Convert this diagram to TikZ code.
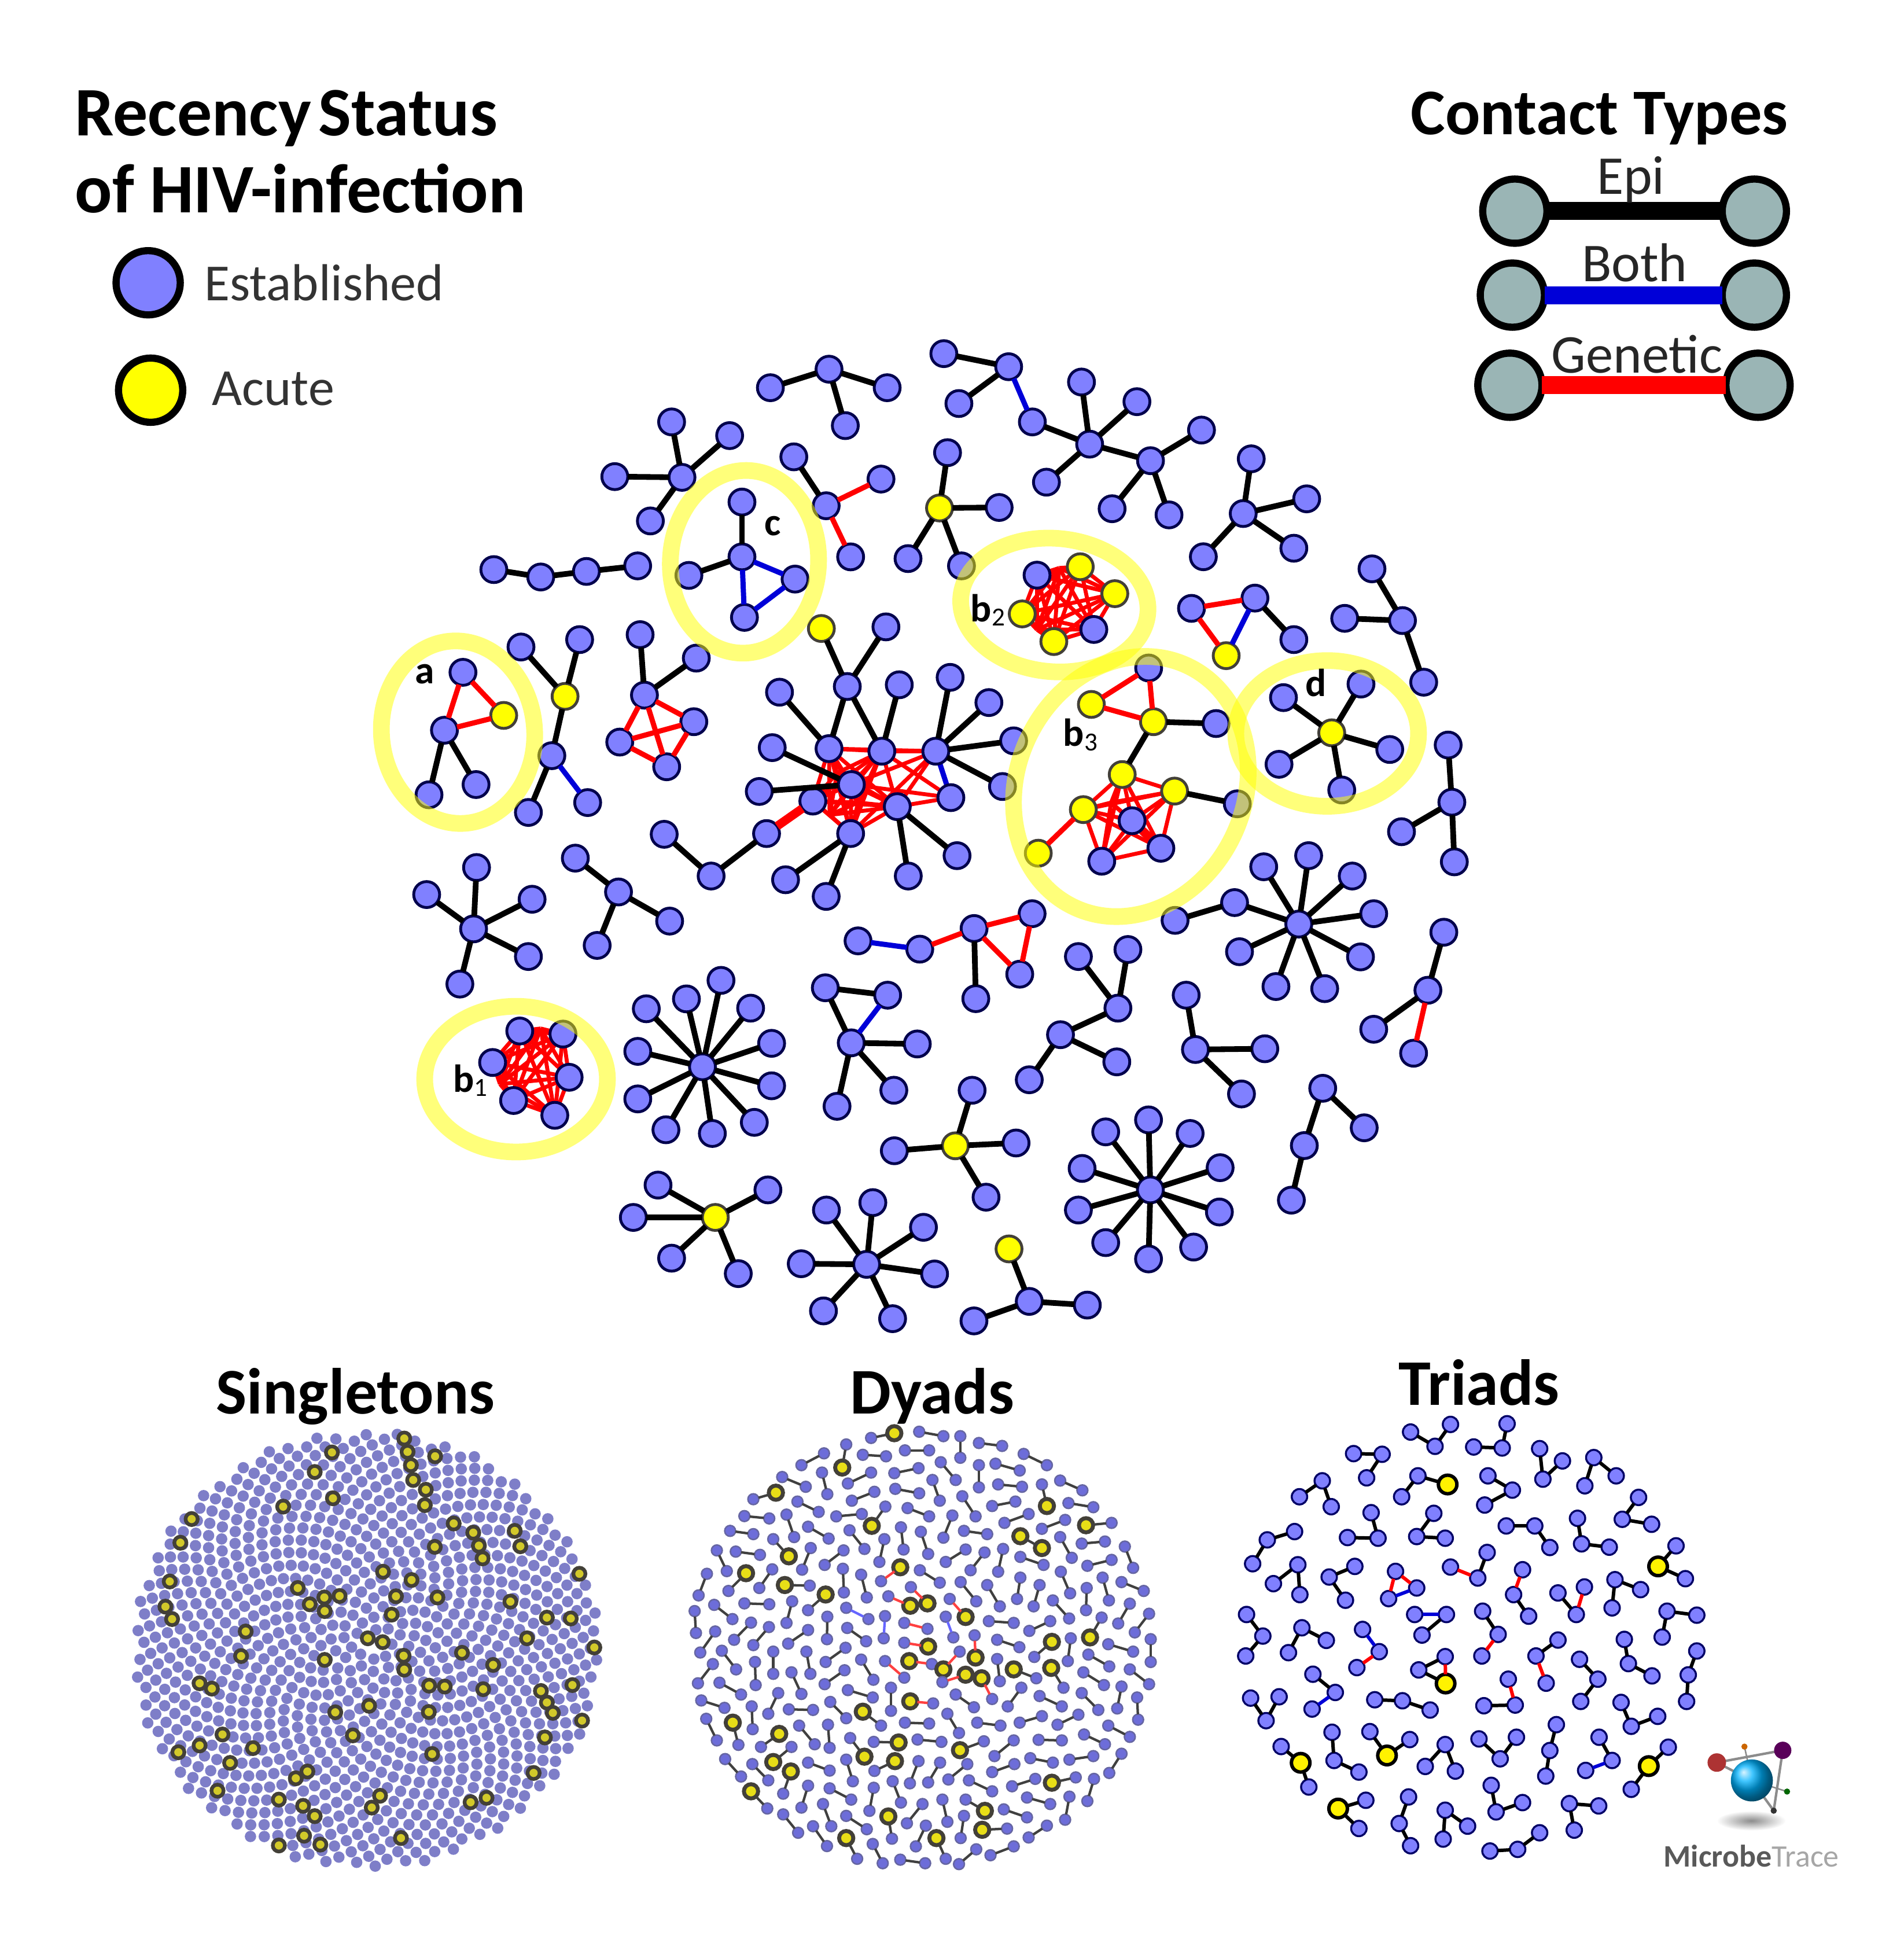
\documentclass[tikz,border=0pt]{standalone}
\usepackage{fontspec}
\setmainfont{Carlito}
\usetikzlibrary{backgrounds}
\definecolor{estblue}{HTML}{8080FF}
\definecolor{acuyellow}{HTML}{FFFF00}
\definecolor{legrey}{HTML}{9AB5B5}
\definecolor{hilite}{HTML}{FFFF00}
\definecolor{bothblue}{HTML}{0000D8}
\tikzset{
  estnode/.style={circle,draw=black!70!blue,fill=estblue,line width=.023cm,minimum size=.21cm,inner sep=0pt,outer sep=0pt},
  acunode/.style={estnode,draw=black!85!yellow,fill=acuyellow},
  epiedge/.style={black,line width=.046cm},
  genedge/.style={red,line width=.042cm},
  meshedge/.style={red,line width=.032cm},
  bothedge/.style={bothblue,line width=.042cm},
  hiring/.style={draw=hilite,opacity=.52,line width=.135cm},
  lglarge/.style={circle,draw=black,fill=estblue,line width=.058cm,minimum size=.52cm,inner sep=0pt,outer sep=0pt},
  lgnode/.style={lglarge,fill=legrey},
  lgedge/.style={line width=.145cm},
  bigtitle/.style={font=\fontsize{15}{18}\selectfont\bfseries,inner sep=0pt},
  lefttitle/.style={font=\fontsize{16}{18}\selectfont\bfseries,inner sep=0pt},
  lgtext/.style={font=\fontsize{12}{14}\selectfont,text=black!80,inner sep=0pt},
  lgword/.style={font=\fontsize{12.6}{14}\selectfont,text=black!85,inner sep=0pt},
  cllabel/.style={font=\fontsize{9}{10}\selectfont\bfseries,inner sep=0pt},
  singnode/.style={circle,fill=black!5!blue!38!white!80!black,minimum size=.092cm,inner sep=0pt},
  singacu/.style={circle,draw=black!85!yellow,fill=yellow!80!black,line width=.03cm,minimum size=.098cm,inner sep=0pt},
  dyest/.style={circle,draw=blue!40!black!60,fill=estblue!85!black,line width=.012cm,minimum size=.088cm,inner sep=0pt,outer sep=0pt},
  dyacu/.style={circle,draw=black!85!yellow,fill=yellow!90!black,line width=.032cm,minimum size=.115cm,inner sep=0pt,outer sep=0pt},
  dyepi/.style={black!75,line width=.02cm},
  dygen/.style={red!75,line width=.02cm},
  dyboth/.style={blue!60,line width=.02cm},
  triest/.style={circle,draw=blue!40!black,fill=estblue,line width=.016cm,minimum size=.125cm,inner sep=0pt,outer sep=0pt},
  triacu/.style={circle,draw=black,fill=yellow,line width=.028cm,minimum size=.15cm,inner sep=0pt,outer sep=0pt},
  triepi/.style={black,line width=.028cm},
  trigen/.style={red,line width=.028cm},
  triboth/.style={bothblue,line width=.028cm}
}
% leaves of one hub
\newcommand{\spokes}[2]{\foreach \px/\py [count=\k] in {#2}{\node[estnode] (#1-\k) at (\px,\py) {}; \draw[epiedge] (#1) -- (#1-\k);}}
% every pair of a group, under the nodes
\newcommand{\meshall}[1]{\begin{scope}[on background layer]
  \foreach \p [count=\i] in {#1}{\foreach \q [count=\j] in {#1}{\ifnum\i<\j \draw[meshedge] (\p) -- (\q);\fi}}
\end{scope}}
\newcommand{\dyads}[4]{\foreach \xa/\ya/\xb/\yb [count=\i] in {#4}{\node[#2] (#1a\i) at (\xa,\ya) {}; \node[dyest] (#1b\i) at (\xb,\yb) {}; \draw[#3] (#1a\i) -- (#1b\i);}}
\begin{document}
\begin{tikzpicture}[x=.01cm,y=-.01cm]
  \useasboundingbox (0,0) rectangle (1542,1568);
  % legends
  \node[lefttitle,anchor=base west] (rectitle) at (60,110) {Recency\hspace{-.12em} Status};
  \node[lefttitle,anchor=base west] (rectitleb) at (60,172) {of HIV-infection};
  \node[lglarge] (lgest) at (120,229) {};
  \node[lglarge,fill=acuyellow] (lgacu) at (122,316) {};
  \node[lgtext,anchor=west] (lgesttext) at (165,229) {Established};
  \node[lgtext,anchor=west] (lgacutext) at (171,315) {Acute};
  \node[bigtitle,anchor=base west] (contitle) at (1142,109) {Contact Types};
  \foreach \nm/\ya/\xa/\xb/\col/\txt/\ty/\tx in {epi/171/1227/1421/black/Epi/157/1321,both/239/1225/1421/bothblue/Both/228/1324,gen/312/1223/1424/red/Genetic/302/1326}{
    \node[lgnode] (\nm l) at (\xa,\ya) {};
    \node[lgnode] (\nm r) at (\xb,\ya) {};
    \draw[lgedge,\col] (\nm l) -- (\nm r);
    \node[lgword,anchor=base] (\nm t) at (\tx,\ty) {\txt};
  }
  % main network, top
  \node[estnode] (t1) at (671.5,299) {}; \spokes{t1}{624/314,718.6/314,684.7/344.7}
  \node[estnode] (t2) at (817,297) {}; \spokes{t2}{764.5/286.4,776.7/326.8}
  \node[estnode] (t3) at (836.2,341.7) {}; \draw[bothedge] (t2) -- (t3);
  \node[estnode] (t4) at (882.6,359.7) {}; \draw[epiedge] (t3) -- (t4); \spokes{t4}{876/309.4,920.9/325.3,847.6/390.5}
  \node[estnode] (t5) at (931.9,373.1) {}; \draw[epiedge] (t4) -- (t5); \spokes{t5}{973.2/348.3,900.8/412,946.9/417}
  \node[estnode] (t6) at (552.4,386.6) {}; \spokes{t6}{544/341.7,591/352.8,498/386,526.8/421.9}
  \foreach \n/\x/\y in {c1/400/461.3,c2/438/467.3,c3/475/462.8,c4/516.5/458.3} \node[estnode] (\n) at (\x,\y) {};
  \foreach \p/\q in {c1/c2,c2/c3,c3/c4} \draw[epiedge] (\p) -- (\q);
  \node[estnode] (t7) at (669.2,409.6) {}; \spokes{t7}{643/370}
  \node[estnode] (t7a) at (713.6,388) {}; \node[estnode] (t7b) at (689,451) {};
  \draw[genedge] (t7) -- (t7a); \draw[genedge] (t7) -- (t7b);
  \node[acunode] (t8) at (761,411.4) {}; \spokes{t8}{767.5/366.6,809.3/411,735.5/452.4,778.8/458.3}
  \node[estnode] (t9) at (1007,415.9) {}; \spokes{t9}{1013.5/371.6,1058.4/404,1048/444,974.7/450.9}
  % clusters a and c
  \foreach \n/\x/\y in {a1/375/544.5,a3/360/591.4} \node[estnode] (\n) at (\x,\y) {};
  \node[acunode] (a2) at (408,579.4) {};
  \foreach \p/\q in {a1/a2,a2/a3,a1/a3} \draw[genedge] (\p) -- (\q);
  \spokes{a3}{347.5/643.7,385.6/635.4}
  \node[acunode] (e1) at (457.7,564) {}; \spokes{e1}{422/524,469.5/518}
  \node[estnode] (e2) at (447,612) {}; \draw[epiedge] (e1) -- (e2); \spokes{e2}{428/658}
  \node[estnode] (e3) at (476,650) {}; \draw[bothedge] (e2) -- (e3);
  \node[estnode] (k1) at (522,563) {}; \spokes{k1}{518.5/514,564/533}
  \foreach \n/\x/\y in {k2/562/584.5,k3/502/601,k4/540/621} \node[estnode] (\n) at (\x,\y) {};
  \foreach \p/\q in {k1/k2,k1/k3,k1/k4,k2/k3,k2/k4,k3/k4} \draw[genedge] (\p) -- (\q);
  \node[estnode] (f1) at (601,451) {}; \spokes{f1}{601/406.6,558/466}
  \node[estnode] (f2) at (644,469) {}; \node[estnode] (f3) at (603,500) {};
  \foreach \p/\q in {f1/f2,f1/f3,f2/f3} \draw[bothedge] (\p) -- (\q);
  % central group
  \foreach \n/\x/\y in {h1/671.5/606.3,h2/714.3/608.4,h3/758/608.4,h4/689.6/635.4,h5/658.4/648.8,h6/726.8/653.3,h7/770.2/646,h8/689/675.1} \node[estnode] (\n) at (\x,\y) {};
  \foreach \n/\x/\y in {hm1/678/626,hm2/672/660,hm3/695/650} \coordinate (\n) at (\x,\y);
  \meshall{h1,h2,h4,h5,h6,h8,hm1,hm2,hm3}
  \begin{scope}[on background layer]
    \foreach \q in {h1,h2,h4,h6,h8} \draw[meshedge] (h3) -- (\q);
    \foreach \q in {h2,h4,h6} \draw[meshedge] (h7) -- (\q);
    \draw[bothedge] (h3) -- (h7);
  \end{scope}
  \node[estnode] (h0) at (686.3,556) {};
  \node[acunode] (h0a) at (665.3,509) {}; \draw[epiedge] (h0) -- (h0a);
  \spokes{h0}{717.6/507.7}
  \draw[epiedge] (h0) -- (h1); \draw[epiedge] (h0) -- (h2);
  \spokes{h1}{631.4/560.6}
  \spokes{h2}{728.4/554.6}
  \spokes{h3}{769.6/548.6,801/569,821/600,812/637}
  \spokes{h4}{625.5/605.5,615/641}
  \spokes{h6}{735.7/709.5,775.2/693}
  \spokes{h8}{636.3/712.5,669.2/726}
  \node[estnode] (l1) at (620.9,675.1) {}; \draw[red,line width=.07cm] (h5) -- (l1);
  \node[estnode] (l2) at (576,709.5) {}; \draw[epiedge] (l1) -- (l2); \spokes{l2}{538/675.7}
  % clusters b
  \foreach \n/\x/\y in {g1/840/465.8,g5/886/509.8} \node[estnode] (\n) at (\x,\y) {};
  \foreach \n/\x/\y in {g2/875/459,g3/903/480.8,g4/828/497.2,g6/853.6/519.6} \node[acunode] (\n) at (\x,\y) {};
  \coordinate (gm1) at (858,460); \coordinate (gm2) at (840,510);
  \meshall{g1,g2,g3,g4,g5,g6,gm1,gm2}
  \foreach \n/\x/\y in {j1/421/835,j2/456/837.5,j3/399/860.5,j4/461/872.5,j5/416/891.3,j6/449.4/903.3} \node[estnode] (\n) at (\x,\y) {};
  \coordinate (jm1) at (438,833); \coordinate (jm2) at (405,878);
  \meshall{j1,j2,j3,j4,j5,j6,jm1,jm2}
  \foreach \n/\x/\y in {m1/930.4/541,m4/917/664.7,m5/940.3/687,m6/892.4/697.5} \node[estnode] (\n) at (\x,\y) {};
  \foreach \n/\x/\y in {m2/884/570.5,m3/934.3/584.5,m7/909/627.3,m8/951.4/640.7,m9/877.5/655.7,m10/841/691} \node[acunode] (\n) at (\x,\y) {};
  \foreach \p/\q in {m1/m2,m1/m3,m2/m3,m9/m10} \draw[genedge] (\p) -- (\q);
  \spokes{m3}{985/586}
  \draw[epiedge] (m3) -- (m7);
  \spokes{m8}{1002.2/651}
  \coordinate (mm1) at (900,650);
  \meshall{m7,m8,m9,m4,m5,m6,mm1}
  \begin{scope}[on background layer]\draw[red,line width=.07cm] (m4) -- (m5);\end{scope}
  % right side
  \node[estnode] (r1) at (965.1,492.7) {}; \node[estnode] (r2) at (1016.5,484.4) {}; \node[acunode] (r3) at (993.2,531) {};
  \draw[genedge] (r1) -- (r2); \draw[genedge] (r1) -- (r3); \draw[bothedge] (r2) -- (r3);
  \spokes{r2}{1048/518}
  \node[estnode] (r4) at (1136,502.6) {}; \spokes{r4}{1111.3/460.7,1089.2/500.8,1153.2/552.5}
  \node[acunode] (d1) at (1078.7,593.5) {}; \spokes{d1}{1039.6/565,1102.4/554,1125.7/607,1086.8/639.8,1036/619}
  \node[estnode] (r5) at (1176,649.7) {}; \spokes{r5}{1173/603.4,1135.2/673.6,1178/698}
  \node[estnode] (r6) at (1052,748.4) {}; \spokes{r6}{1023.6/702,1060/693,1095.3/709.5,1112.7/740,1102/775,1073/800.7,1033.5/799,1004/770.8,1000/731}
  \node[estnode] (r7) at (951.8,745.4) {}; \draw[epiedge] (r7) -- (r6-9);
  \node[estnode] (r8) at (1156.6,802) {}; \spokes{r8}{1169.5/755,1112.7/833.6}
  \node[estnode] (r9) at (1145,853) {}; \draw[genedge] (r8) -- (r9);
  % lower part
  \node[estnode] (u1) at (383.6,752.3) {}; \spokes{u1}{386/702.6,345.6/724.5,431/728.3,428/774.7,372.5/797}
  \node[estnode] (u2) at (501,722.4) {}; \spokes{u2}{466/695,542.4/746,483.7/765.7}
  \foreach \n/\x/\y in {v1/695/762,v2/745/768.7,v3/789/752,v4/836/740,v5/826/789} \node[estnode] (\n) at (\x,\y) {};
  \draw[bothedge] (v1) -- (v2);
  \foreach \p/\q in {v2/v3,v3/v4,v3/v5,v4/v5} \draw[genedge] (\p) -- (\q);
  \spokes{v3}{790.4/808.8}
  \node[estnode] (w1) at (905.5,816.5) {}; \spokes{w1}{873.5/774.7,913.6/769}
  \node[estnode] (w2) at (859,838) {}; \draw[epiedge] (w1) -- (w2); \spokes{w2}{904.6/860,833.7/874.5}
  \node[estnode] (w3) at (968.3,850) {}; \spokes{w3}{960.8/806,1024.5/849.4,1005.6/886}
  \node[estnode] (w4) at (1071.4,881.4) {}; \spokes{w4}{1105/913.4,1056.5/927.8}
  \node[estnode] (w5) at (1046,972) {}; \draw[epiedge] (w4-2) -- (w5);
  \node[estnode] (s1) at (569,864) {}; \spokes{s1}{584/794,556/809,523.5/817,608/816.5,625/845,625/879.4,611/909,577/918,539.4/915,516.6/890,516.6/851.5}
  \node[estnode] (s2) at (689.5,844.6) {}; \spokes{s2}{668.5/800,743/845.5,724/883,678/896}
  \node[estnode] (s3) at (719,806) {}; \draw[epiedge] (s2-1) -- (s3); \draw[bothedge] (s2) -- (s3);
  \node[acunode] (s4) at (773.8,928) {}; \spokes{s4}{724.4/932,787.4/883,823/925.7,798.7/969.6}
  \node[estnode] (s5) at (931.8,963.7) {}; \spokes{s5}{930.3/907,964/918,988.3/945.7,987.7/981.6,966.8/1010,930.3/1019.6,895.6/1006.4,873.5/980,876.5/946.3,895.6/916.7}
  \node[acunode] (s6) at (579.4,986) {}; \spokes{s6}{533/959.8,622/963.7,513/986,544/1019,598/1031.5}
  \node[estnode] (s7) at (702,1024) {}; \spokes{s7}{669.4/980,707/974,748/994,757/1031.8,723/1068,667/1061.7,649/1023.5}
  \node[estnode] (s8) at (833.7,1054) {}; \spokes{s8}{880.7/1057,788.9/1069.8}
  \node[acunode] (s9) at (817.3,1011.5) {}; \draw[epiedge] (s9) -- (s8);
  % rings and their letters
  \draw[hiring,rotate around={5:(371,593)}] (371,593) ellipse (62 and 74);
  \draw[hiring,rotate around={-3:(603,455)}] (603,455) ellipse (60 and 74);
  \draw[hiring,rotate around={-5:(854,490)}] (854,490) ellipse (76 and 54);
  \draw[hiring,rotate around={-25:(916,637)}] (916,637) ellipse (92 and 108);
  \draw[hiring] (1075,594) ellipse (74 and 59);
  \draw[hiring] (418,874) ellipse (74 and 59);
  \node[cllabel] (laba) at (344,546) {a};
  \node[cllabel] (labc) at (626,426) {c};
  \node[cllabel] (labb2) at (801,494) {b\textsubscript{\mdseries 2}};
  \node[cllabel] (labb3) at (876,595) {b\textsubscript{\mdseries 3}};
  \node[cllabel] (labd) at (1066,553) {d};
  \node[cllabel] (labb1) at (382,875) {b\textsubscript{\mdseries 1}};
  % bottom titles
  \node[bigtitle,anchor=base] (singtitle) at (288,1145) {Singletons};
  \node[bigtitle,anchor=base] (dyadtitle) at (755,1145) {Dyads};
  \node[bigtitle,anchor=base] (tritle) at (1198,1138) {Triads};
  % singletons
  \foreach \i in {1,...,1000}{
    \pgfmathsetmacro\frc{\i*.38197-floor(\i*.38197)}
    \pgfmathsetmacro\rad{5.95*sqrt(\i)}
    \node[singnode] (sg\i) at ({296.5+\rad*cos(\frc*360)},{1336+.94*\rad*sin(\frc*360)}) {};
  }
  \begin{scope}[shift={(93.7,1148.3)},x=.00269cm,y=-.002391cm]
    \foreach \x/\y [count=\i] in {870/70,880/115,963/130,890/160,652/117,897/210,935/243,600/183,932/295,655/272,505/300,229/342,1019/357,1078/388,1203/382,1095/432,1220/434,962/436,195/422,1106/475,806/520,1398/527,163/553,892/548,549/575,629/607,675/602,845/603,970/607,1190/621,585/630,630/653,150/638,170/680,832/665,1300/675,1372/678,392/722,760/745,805/758,1240/745,1443/776,378/805,868/804,1044/794,630/818,1138/835,870/851,253/897,290/915,945/905,992/908,1108/917,1377/903,1282/923,1300/962,1318/997,764/973,662/995,944/994,1406/1023,322/1070,715/1073,1294/1080,253/1107,414/1116,189/1130,954/1136,345/1166,1260/1200,578/1195,543/1218,307/1260,797/1277,492/1290,565/1311,772/1317,1070/1299,1118/1284,600/1346,568/1412,860/1420,617/1442,492/1445}
      \node[singacu] (sa\i) at (\x,\y) {};
  \end{scope}
  % dyads
  \begin{scope}[shift={(539,1148.3)},x=.00269cm,y=-.002391cm]
    \dyads{de}{dyest}{dyepi}{765/47/838/62,889/62/889/135,945/85/1015/95,1080/122/1150/160,478/120/410/160,595/125/665/130,722/110/795/110,830/150/875/210,945/160/945/235,995/155/1068/178,620/185/550/222,690/187/763/170,472/185/488/258,352/200/423/233,805/210/827/280,1003/225/1075/233,1190/212/1257/245,693/240/765/255,630/250/562/280,895/265/935/333,985/298/1055/283,398/283/462/318,1215/288/1290/302,730/305/795/333,515/333/592/325,238/332/313/340,365/327/388/403,865/330/838/405,1095/325/1022/355,1205/345/1135/375,195/382/265/393,430/368/492/408,555/380/600/443,710/370/718/445,770/385/792/460,900/382/970/393,1190/403/1225/473,660/410/645/487,1255/425/1325/418,155/448/185/518,212/452/285/463,438/440/412/513,537/448/480/497,905/445/845/487,962/455/920/515,1018/443/1003/520,1385/435/1410/507,1070/470/1140/497,1345/480/1272/500,767/515/827/557,535/510/538/590,590/530/607/607,125/527/100/600,322/512/283/575,1192/520/1220/593,1070/540/1060/612,890/555/937/620,970/565/1008/637,1128/565/1110/637,1318/540/1337/617,1270/575/1268/650,1375/555/1442/585,1168/617/1217/678,147/632/202/680,238/627/313/630,382/620/365/693,1400/628/1365/695,88/653/92/727,488/672/487/748,975/687/1050/693,1160/687/1097/720,1458/662/1415/725,258/692/207/750,312/707/265/768,430/717/370/763,548/710/605/755,150/722/105/793,1000/750/1067/775,1222/745/1213/822,1335/765/1410/790,1463/748/1463/825,170/787/213/850,325/790/325/865,425/790/437/865,543/777/483/825,1275/800/1338/840,590/817/627/885,1000/815/1008/890,143/832/98/897,270/825/272/903,380/860/410/933,540/853/480/900,1260/860/1322/903,1400/850/1458/900,163/895/228/935,680/912/680/990,1073/912/1032/975,875/935/930/978,550/920/625/945,340/930/310/1000,1128/940/1195/975,1255/930/1305/987,1375/908/1362/982,1422/945/1425/1020,108/955/178/980,260/975/263/1052,372/985/445/987,497/960/545/1015,850/1000/885/1065,722/1030/795/1033,940/1030/1010/1040,1135/1008/1068/1030,1245/1003/1182/1037,123/1017/155/1090,403/1040/450/1103,490/1037/495/1115,1335/1040/1400/1078,760/1087/832/1095,1050/1090/992/1143,1125/1088/1195/1090,1262/1070/1325/1103,180/1153/228/1212,262/1170/310/1225,430/1165/495/1192,545/1155/565/1228,763/1160/737/1235,828/1165/792/1232,910/1170/853/1222,1100/1150/1168/1165,1218/1155/1290/1143,1375/1135/1338/1200,1052/1170/985/1197,915/1225/985/1262,1115/1220/1045/1245,1292/1220/1272/1295,430/1243/410/1317,495/1252/560/1290,628/1250/615/1328,685/1228/710/1300,1090/1283/1160/1305,1218/1280/1205/1358,835/1290/850/1365,775/1305/728/1370,475/1305/500/1380,1020/1323/1090/1350,545/1345/607/1390,900/1345/890/1420,355/1340/400/1402,785/1378/755/1448,1150/1378/1095/1418,445/1380/487/1447,625/1440/655/1505,708/1493/783/1505,937/1458/885/1508,1050/1448/980/1478}
    \dyads{da}{dyacu}{dyepi}{533/168/545/90,690/52/620/68,1150/298/1135/225,333/253/265/275,622/365/663/300,1268/363/1345/355,372/468/325/410,243/525/190/585,360/565/435/567,483/597/430/650,1280/742/1315/675,1165/757/1112/808,1050/850/1118/880,1163/845/1200/912,595/993/650/1040,203/1030/220/1105,343/1068/288/1112,600/1145/557/1082,703/1097/628/1095,888/1123/960/1093,325/1163/380/1112,692/1160/630/1193,378/1195/355/1270,1165/1233/1237/1215,258/1262/307/1320,963/1328/905/1290,672/1347/683/1422,955/1392/1030/1388,817/1420/845/1490,545/1420/578/1490}
    \dyads{dr}{dyacu}{dygen}{708/505/650/552,790/627/740/572,738/635/672/603,905/673/857/612,792/773/720/760,935/810/932/735,735/822/803/832,838/850/887/790,905/868/835/893,953/880/985/950,738/958/807/965}
    \dyads{dg}{dyest}{dygen}{720/693/790/713,662/822/720/878}
    \dyads{db}{dyest}{dyboth}{545/642/612/680,662/670/658/745,845/672/868/742}
    \node[dyacu] (dy1) at (1070,400) {}; \node[dyacu] (dy2) at (1135,440) {}; \draw[dyepi] (dy1) -- (dy2);
  \end{scope}
  % triads
  \begin{scope}[shift={(984.3,1124.9)},x=.00329cm,y=-.00269cm]
    \foreach \xa/\ya/\xb/\yb/\xc/\yc [count=\i] in {480/130/540/173/578/107,717/105/705/178/635/175,340/195/410/197/372/268,797/180/805/272/853/217,908/292/930/207/985/262,207/325/263/277/285/355,670/262/730/305/662/350,1040/327/1000/393/1072/408,383/373/400/450/325/448,537/375/495/445/565/450,715/413/785/413/822/478,890/390/900/467/968/477,195/430/128/455/92/527,143/587/203/530/208/620,343/535/280/567/320/637,1045/605/982/575/975/660,1183/682/1110/670/1098/748,77/680/117/745/75/805,180/795/213/720/273/758,1005/755/1015/828/1073/865,1183/790/1162/862/1158/942,895/815/940/875/898/942,392/937/460/940/528/968,87/932/125/1000/157/928,997/945/1022/1017/1087/987,838/1012/822/1090/812/1167,287/1035/292/1120/353/1155,648/1055/700/1115/740/1050,516/1138/565/1072/590/1152,678/1195/690/1275/755/1247,475/1230/452/1310/480/1377,942/1257/870/1250/882/1330,620/1318/565/1270/560/1357,675/1393/743/1388/797/1338}{
      \node[triest] (tda\i) at (\xa,\ya) {}; \node[triest] (tdb\i) at (\xb,\yb) {}; \node[triest] (tdc\i) at (\xc,\yc) {};
      \draw[triepi] (tda\i) -- (tdb\i); \draw[triepi] (tdb\i) -- (tdc\i);
    }
    \foreach \xa/\ya/\xb/\yb/\xc/\yc/\sb/\sc/\ea/\eb [count=\i] in {458/325/498/262/571/288/triest/triacu/triepi/triepi,1132/473/1088/535/1155/572/triacu/triest/triepi/triepi,668/493/645/570/578/537/triest/triest/triepi/trigen,755/545/733/620/770/685/triest/triest/trigen/triepi,842/615/887/680/907/597/triest/triest/triepi/trigen,490/680/568/680/508/742/triest/triest/triboth/triepi,657/670/695/740/655/805/triest/triest/triepi/trigen,362/725/403/792/348/840/triest/triest/triboth/trigen,842/757/788/805/813/887/triest/triest/triepi/trigen,240/860/295/915/238/965/triest/triest/triepi/triboth,720/875/737/953/660/955/triest/triest/trigen/triepi,380/1033/422/1105/478/1057/triacu/triest/triepi/triepi,943/1050/975/1120/910/1150/triest/triest/triepi/triboth,162/1078/210/1127/230/1200/triacu/triest/triepi/triepi,1113/1080/1065/1137/1022/1207/triacu/triest/triepi/triepi,370/1240/302/1265/353/1325/triacu/triest/triepi/triepi,443/550/495/600/426/632/triest/triest/trigen/triboth,565/807/500/847/566/888/triest/triacu/triepi/triepi}{
      \node[triest] (sda\i) at (\xa,\ya) {}; \node[\sb] (sdb\i) at (\xb,\yb) {}; \node[\sc] (sdc\i) at (\xc,\yc) {};
      \draw[\ea] (sda\i) -- (sdb\i); \draw[\eb] (sdb\i) -- (sdc\i);
    }
    \draw[trigen] (sda17) -- (sdc17);
    \draw[trigen] (sda18) -- (sdc18);
  \end{scope}
  % logo
  \draw[black!45,line width=.02cm] (1390.6,1427.5) -- (1444,1417.6) -- (1436.7,1466.5) -- (1419,1442) -- cycle;
  \draw[black!45,line width=.012cm] (1413,1414.6) -- (1419,1442) -- (1447.5,1451);
  \shade[inner color=black!45,outer color=white] (1418.6,1474.6) ellipse (28 and 8);
  \shade[ball color=cyan!70!blue] (1419,1442) circle (17);
  \fill[red!60!black!80] (1390.6,1427.5) circle (7.5);
  \fill[violet!70!black] (1444,1417.6) circle (7);
  \fill[orange!80!black] (1413,1414.6) circle (2.5);
  \fill[green!40!black] (1447.5,1451) circle (2.5);
  \fill[black!80] (1436.7,1466.5) circle (2.5);
  \node[inner sep=0pt,font=\fontsize{7.2}{9}\selectfont] (logotext) at (1418.6,1503) {\textcolor{black!65}{\textbf{Microbe}}\textcolor{black!35}{Trace}};
\end{tikzpicture}
\end{document}
